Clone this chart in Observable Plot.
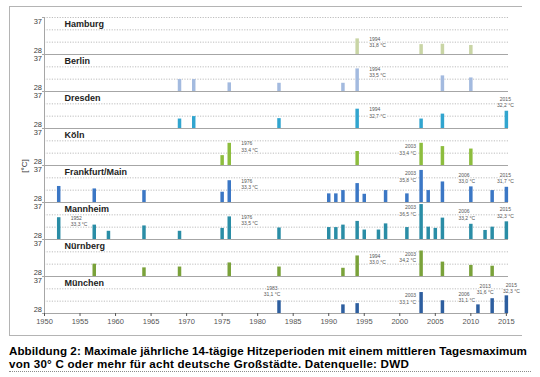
<!DOCTYPE html>
<html>
<head>
<meta charset="utf-8">
<script src="https://cdn.jsdelivr.net/npm/d3@7"></script>
<script src="https://cdn.jsdelivr.net/npm/@observablehq/plot@0.6"></script>
<style>
  body { margin: 0; background: #fff; }
  #wrap { position: relative; width: 540px; height: 377px; font-family: "Liberation Sans", Arial, sans-serif; }
  #frame { position: absolute; left: 9px; top: 6px; width: 513px; height: 330px; border: 1px solid #b4b4b4; border-right: none; box-sizing: border-box; }
  #chart { position: absolute; left: 0; top: 0; }
  #ylabel { position: absolute; left: 23.5px; top: 166px; transform: translate(-50%, -50%) rotate(-90deg); font-size: 8px; color: #333; white-space: nowrap; }
  .cap { position: absolute; left: 9px; font-weight: bold; font-size: 11.6px; line-height: 13px; color: #000; white-space: nowrap; }
  #cap1 { top: 343.5px; }
  #cap2 { top: 356.5px; }
  #rule { position: absolute; left: 9px; top: 371px; width: 522px; border-top: 1px dotted #8a8a8a; }
</style>
</head>
<body>
<div id="wrap">
  <div id="frame"></div>
  <div id="chart"></div>
  <div id="ylabel">[°C]</div>
  <div class="cap" id="cap1">Abbildung 2: Maximale jährliche 14-tägige Hitzeperioden mit einem mittleren Tagesmaximum</div>
  <div class="cap" id="cap2">von 30° C oder mehr für acht deutsche Großstädte. Datenquelle: DWD</div>
  <div id="rule"></div>
</div>
<script>
// ---- data ----
const cities = ["Hamburg", "Berlin", "Dresden", "Köln", "Frankfurt/Main", "Mannheim", "Nürnberg", "München"];
const cityColors = ["#c9d5a5", "#a3badf", "#31a5cf", "#8dbd3e", "#3b77c5", "#2a8da6", "#7aa23a", "#2d5e9f"];
const xTicks = [1950, 1955, 1960, 1965, 1970, 1975, 1980, 1985, 1990, 1995, 2000, 2005, 2010, 2015];
const yTicks = [28, 37];
const gridTicks = [31, 34, 37];

const hamburgYears = [1994, 2003, 2006, 2010];
const hamburgValues = [31.8, 30.4, 30.5, 30.2];
const berlinYears = [1969, 1971, 1976, 1983, 1992, 1994, 2006, 2010];
const berlinValues = [30.9, 30.9, 30.1, 30.0, 30.0, 33.5, 31.8, 31.3];
const dresdenYears = [1969, 1971, 1983, 1994, 2003, 2006, 2015];
const dresdenValues = [30.3, 30.9, 30.4, 32.7, 30.3, 31.5, 32.2];
const koelnYears = [1975, 1976, 1994, 2003, 2006, 2010];
const koelnValues = [30.4, 33.4, 31.4, 33.4, 32.6, 32.0];
const frankfurtYears = [1952, 1957, 1964, 1975, 1976, 1990, 1991, 1992, 1994, 1995, 1998, 2001, 2003, 2004, 2006, 2010, 2013, 2015];
const frankfurtValues = [31.9, 31.3, 30.9, 30.5, 33.3, 30.1, 30.1, 30.9, 32.6, 30.0, 30.9, 30.1, 35.8, 30.9, 33.0, 31.8, 30.9, 31.7];
const mannheimYears = [1952, 1957, 1959, 1964, 1969, 1975, 1976, 1983, 1990, 1991, 1992, 1994, 1995, 1997, 1998, 2001, 2003, 2004, 2005, 2006, 2010, 2012, 2013, 2015];
const mannheimValues = [33.3, 31.5, 30.0, 31.3, 30.0, 30.7, 33.5, 30.8, 30.9, 30.9, 31.5, 32.4, 30.3, 30.3, 31.8, 30.9, 36.5, 31.0, 30.7, 33.2, 31.7, 30.2, 31.0, 32.3];
const nuernbergYears = [1957, 1964, 1969, 1976, 1983, 1992, 1994, 2003, 2006, 2010, 2013];
const nuernbergValues = [31.0, 30.1, 30.3, 31.3, 30.3, 30.0, 33.0, 34.2, 31.5, 30.7, 30.5];
const muenchenYears = [1983, 1992, 1994, 2003, 2006, 2011, 2013, 2015];
const muenchenValues = [31.1, 30.1, 30.4, 33.1, 31.1, 30.1, 31.6, 32.3];

// labelled bars: city, year, placement class
const annotationCities = ["Hamburg", "Berlin", "Dresden", "Dresden", "Köln", "Köln",
  "Frankfurt/Main", "Frankfurt/Main", "Frankfurt/Main", "Frankfurt/Main",
  "Mannheim", "Mannheim", "Mannheim", "Mannheim", "Mannheim",
  "Nürnberg", "Nürnberg", "München", "München", "München", "München", "München"];
const annotationYears = [1994, 1994, 1994, 2015, 1976, 2003,
  1976, 2003, 2006, 2015,
  1952, 1976, 2003, 2006, 2015,
  1994, 2003, 1983, 2003, 2006, 2013, 2015];
const annotationPlaces = ["right", "right", "right", "above", "right", "left",
  "right", "left", "far", "above",
  "right", "right", "left", "far", "above",
  "right", "left", "aboveLeft", "left", "far", "aboveLeft", "aboveRight"];

// ---- build tables ----
const series = [
  [hamburgYears, hamburgValues], [berlinYears, berlinValues], [dresdenYears, dresdenValues],
  [koelnYears, koelnValues], [frankfurtYears, frankfurtValues], [mannheimYears, mannheimValues],
  [nuernbergYears, nuernbergValues], [muenchenYears, muenchenValues]
];
const rows = [];
series.forEach(([ys, vs], i) => ys.forEach((y, j) => rows.push({city: cities[i], year: y, value: vs[j]})));

const annotations = annotationCities.map((c, i) => {
  const r = rows.find(d => d.city === c && d.year === annotationYears[i]);
  return {city: c, year: r.year, value: r.value, place: annotationPlaces[i],
    label: `${r.year}\n${r.value.toFixed(1).replace(".", ",")} °C`};
});

// placement styles (pixel offsets from the bar top)
const placements = {
  right:      {dx: 12, dy: 3,    textAnchor: "start"},
  left:       {dx: -5, dy: 6,    textAnchor: "end"},
  far:        {dx: 16, dy: -4,   textAnchor: "start"},
  above:      {dx: -1, dy: -9.5, textAnchor: "middle"},
  aboveLeft:  {dx: -7, dy: -10,  textAnchor: "middle"},
  aboveRight: {dx: 5,  dy: -8,   textAnchor: "middle"}
};

const annotationMarks = Object.entries(placements).map(([key, p]) =>
  Plot.text(annotations.filter(d => d.place === key), {
    fy: "city", x: "year", y: "value", text: "label",
    dx: p.dx, dy: p.dy, textAnchor: p.textAnchor, lineAnchor: "middle",
    fontSize: 5, lineHeight: 1.33, fill: "#555", stroke: "white", strokeWidth: 1.5
  })
);

const chart = Plot.plot({
  width: 540,
  height: 338,
  marginLeft: 44,
  marginRight: 32,
  marginTop: 14,
  marginBottom: 22,
  style: {fontFamily: "'Liberation Sans', Arial, sans-serif", background: "transparent", overflow: "visible"},
  x: {domain: [1950, 2015.3]},
  y: {domain: [28, 37]},
  fy: {domain: cities, axis: null, padding: 0},
  color: {domain: cities, range: cityColors},
  marks: [
    Plot.gridY({ticks: gridTicks, stroke: "#bdbdbd", strokeOpacity: 1, strokeDasharray: "1.2 1.4"}),
    Plot.ruleY([28], {stroke: "#a6a6a6"}),
    Plot.ruleX([1950], {stroke: "#a6a6a6"}),
    Plot.ruleX(rows, {fy: "city", x: "year", y1: 28, y2: "value", stroke: "city", strokeWidth: 3.5}),
    Plot.axisY({ticks: yTicks, tickSize: 2, tickFormat: () => "", label: null, color: "#a6a6a6"}),
    Plot.axisY({ticks: [28], tickSize: 0, tickPadding: 2.5, dy: -3.5, fontSize: 7.5, label: null, color: "#404040"}),
    Plot.axisY({ticks: [37], tickSize: 0, tickPadding: 2.5, dy: 4.5, fontSize: 7.5, label: null, color: "#404040"}),
    Plot.axisX({ticks: xTicks, tickFormat: d => String(d), tickSize: 3, tickPadding: 2, fontSize: 7.5, label: null, color: "#555"}),
    Plot.text(cities, {fy: d => d, text: d => d, frameAnchor: "top-left", dx: 20, dy: 7, lineAnchor: "middle",
      textAnchor: "start", fontWeight: "bold", fontSize: 9, fill: "#222"}),
    ...annotationMarks
  ]
});
document.getElementById("chart").appendChild(chart);

// fit caption lines to the widths seen in the reference
function fit(id, target) {
  const el = document.getElementById(id);
  const n = el.textContent.length;
  const w = el.getBoundingClientRect().width;
  el.style.letterSpacing = ((target - w) / n) + "px";
}
fit("cap1", 518);
fit("cap2", 400);
</script>
</body>
</html>
